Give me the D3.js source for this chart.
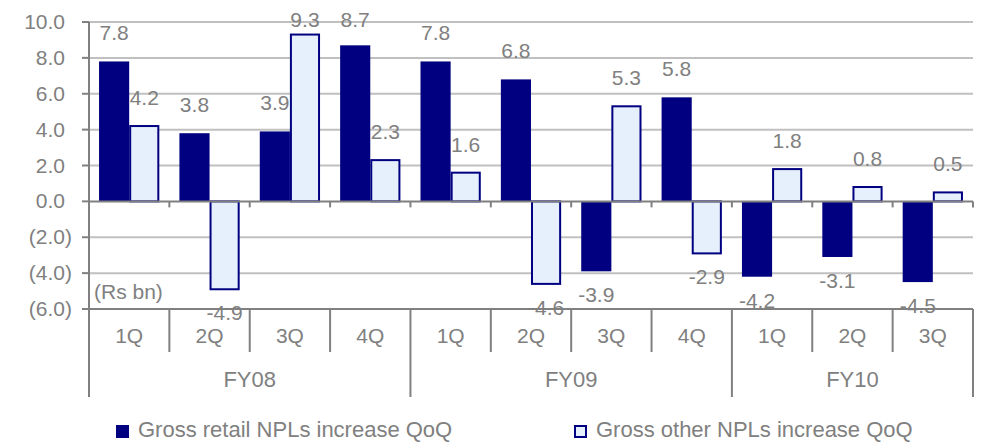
<!DOCTYPE html>
<html>
<head>
<meta charset="utf-8">
<script src="https://cdn.jsdelivr.net/npm/d3@7"></script>
<style>
  html, body { margin: 0; padding: 0; background: #fff; }
  svg { display: block; font-family: Arial, "Liberation Sans", sans-serif; }
  text { fill: #808080; }
</style>
</head>
<body>
<svg id="chart" width="984" height="443"></svg>
<script>
// Quarterly change in gross NPLs (Rs bn)
const quarters = ["1Q", "2Q", "3Q", "4Q", "1Q", "2Q", "3Q", "4Q", "1Q", "2Q", "3Q"];
const fiscalYears = ["FY08", "FY09", "FY10"];
const quartersPerYear = [4, 4, 3];
const retailNPL = [7.8, 3.8, 3.9, 8.7, 7.8, 6.8, -3.9, 5.8, -4.2, -3.1, -4.5];
const otherNPL = [4.2, -4.9, 9.3, 2.3, 1.6, -4.6, 5.3, -2.9, 1.8, 0.8, 0.5];
const yTicks = [-6, -4, -2, 0, 2, 4, 6, 8, 10];
const seriesNames = ["Gross retail NPLs increase QoQ", "Gross other NPLs increase QoQ"];

const navy = "#000080";
const pale = "#e6f0fc";
const grid = "#c0c0c0";
const axisGrey = "#808080";

const svg = d3.select("#chart");
const plotL = 89, plotR = 973, plotT = 22, plotB = 309;

const idx = d3.range(quarters.length);
const x = d3.scaleBand().domain(idx).range([plotL, plotR]).paddingInner(0).paddingOuter(0);
const bw = x.bandwidth();
const xs = d3.scaleBand().domain(["retail", "other"]).range([bw * 0.125, bw * 0.875]).padding(0);
const y = d3.scaleLinear().domain([-6, 10]).range([plotB, plotT]);

// accounting style on the value axis, plain hyphen-minus on data labels
const fmtAxis = v => v < 0 ? "(" + (-v).toFixed(1) + ")" : v.toFixed(1);
const fmtValue = v => v.toFixed(1);

// horizontal gridlines
svg.append("g").selectAll("line")
  .data(yTicks.filter(t => t !== 0 && t !== -6))
  .join("line")
  .attr("x1", plotL).attr("x2", plotR)
  .attr("y1", d => y(d)).attr("y2", d => y(d))
  .attr("stroke", grid).attr("stroke-width", 2);

// bars
const rows = idx.map(i => ({ i, retail: retailNPL[i], other: otherNPL[i] }));
const groups = svg.append("g").selectAll("g")
  .data(rows).join("g")
  .attr("transform", d => `translate(${x(d.i)},0)`);

groups.append("rect")
  .attr("x", xs("retail")).attr("width", xs.bandwidth())
  .attr("y", d => y(Math.max(0, d.retail)))
  .attr("height", d => Math.abs(y(d.retail) - y(0)))
  .attr("fill", navy);

groups.append("rect")
  .attr("x", xs("other") + 1).attr("width", xs.bandwidth() - 2)
  .attr("y", d => y(Math.max(0, d.other)))
  .attr("height", d => Math.abs(y(d.other) - y(0)))
  .attr("fill", pale).attr("stroke", navy).attr("stroke-width", 2);

// zero line with small tick marks at category boundaries
svg.append("line")
  .attr("x1", plotL).attr("x2", plotR)
  .attr("y1", y(0)).attr("y2", y(0))
  .attr("stroke", axisGrey).attr("stroke-width", 2);
svg.append("g").selectAll("line")
  .data(d3.range(quarters.length + 1))
  .join("line")
  .attr("x1", d => plotL + d * bw).attr("x2", d => plotL + d * bw)
  .attr("y1", y(0)).attr("y2", y(0) + 6)
  .attr("stroke", axisGrey).attr("stroke-width", 2);

// value axis
svg.append("line")
  .attr("x1", plotL).attr("x2", plotL)
  .attr("y1", plotT).attr("y2", plotB)
  .attr("stroke", axisGrey).attr("stroke-width", 2);
svg.append("g").selectAll("line")
  .data(yTicks).join("line")
  .attr("x1", plotL - 7).attr("x2", plotL)
  .attr("y1", d => y(d)).attr("y2", d => y(d))
  .attr("stroke", axisGrey).attr("stroke-width", 2);
svg.append("g").selectAll("text")
  .data(yTicks).join("text")
  .attr("x", d => d < 0 ? 72 : 65)
  .attr("y", d => y(d) + 7)
  .attr("text-anchor", "end")
  .attr("font-size", 21)
  .text(fmtAxis);

// category axis (bottom)
svg.append("line")
  .attr("x1", plotL - 7).attr("x2", plotR)
  .attr("y1", plotB).attr("y2", plotB)
  .attr("stroke", axisGrey).attr("stroke-width", 2);

const yearStarts = [0];
quartersPerYear.forEach((n, k) => yearStarts.push(yearStarts[k] + n));

svg.append("g").selectAll("line")
  .data(d3.range(quarters.length + 1))
  .join("line")
  .attr("x1", d => plotL + d * bw).attr("x2", d => plotL + d * bw)
  .attr("y1", plotB)
  .attr("y2", d => yearStarts.includes(d) ? 397 : 352)
  .attr("stroke", axisGrey).attr("stroke-width", 2);

svg.append("g").selectAll("text")
  .data(idx).join("text")
  .attr("x", d => x(d) + bw / 2)
  .attr("y", 343)
  .attr("text-anchor", "middle")
  .attr("font-size", 21)
  .text(d => quarters[d]);

svg.append("g").selectAll("text")
  .data(fiscalYears).join("text")
  .attr("x", (d, k) => plotL + (yearStarts[k] + yearStarts[k + 1]) / 2 * bw)
  .attr("y", 387)
  .attr("text-anchor", "middle")
  .attr("font-size", 22)
  .text(d => d);

// unit label
svg.append("text")
  .attr("x", 94).attr("y", 299)
  .attr("font-size", 21)
  .text("(Rs bn)");

// data labels
const labelY = v => v >= 0 ? Math.max(20, y(v) - 28) : y(v) + 24;
groups.append("text")
  .attr("x", xs("retail") + xs.bandwidth() / 2)
  .attr("y", d => labelY(d.retail) + 7)
  .attr("text-anchor", "middle").attr("font-size", 21)
  .text(d => fmtValue(d.retail));
groups.append("text")
  .attr("x", xs("other") + xs.bandwidth() / 2)
  .attr("y", d => labelY(d.other) + 7)
  .attr("text-anchor", "middle").attr("font-size", 21)
  .text(d => fmtValue(d.other));

// legend
const legend = svg.append("g");
const legendX = [116, 574];
legend.selectAll("rect")
  .data(seriesNames).join("rect")
  .attr("x", (d, k) => legendX[k] + (k ? 1 : 0))
  .attr("y", (d, k) => k ? 426 : 425)
  .attr("width", (d, k) => k ? 11 : 13)
  .attr("height", (d, k) => k ? 11 : 13)
  .attr("fill", (d, k) => k ? pale : navy)
  .attr("stroke", (d, k) => k ? navy : "none")
  .attr("stroke-width", 2);
legend.selectAll("text")
  .data(seriesNames).join("text")
  .attr("x", (d, k) => legendX[k] + 22)
  .attr("y", 437)
  .attr("font-size", 22)
  .text(d => d);
</script>
</body>
</html>
